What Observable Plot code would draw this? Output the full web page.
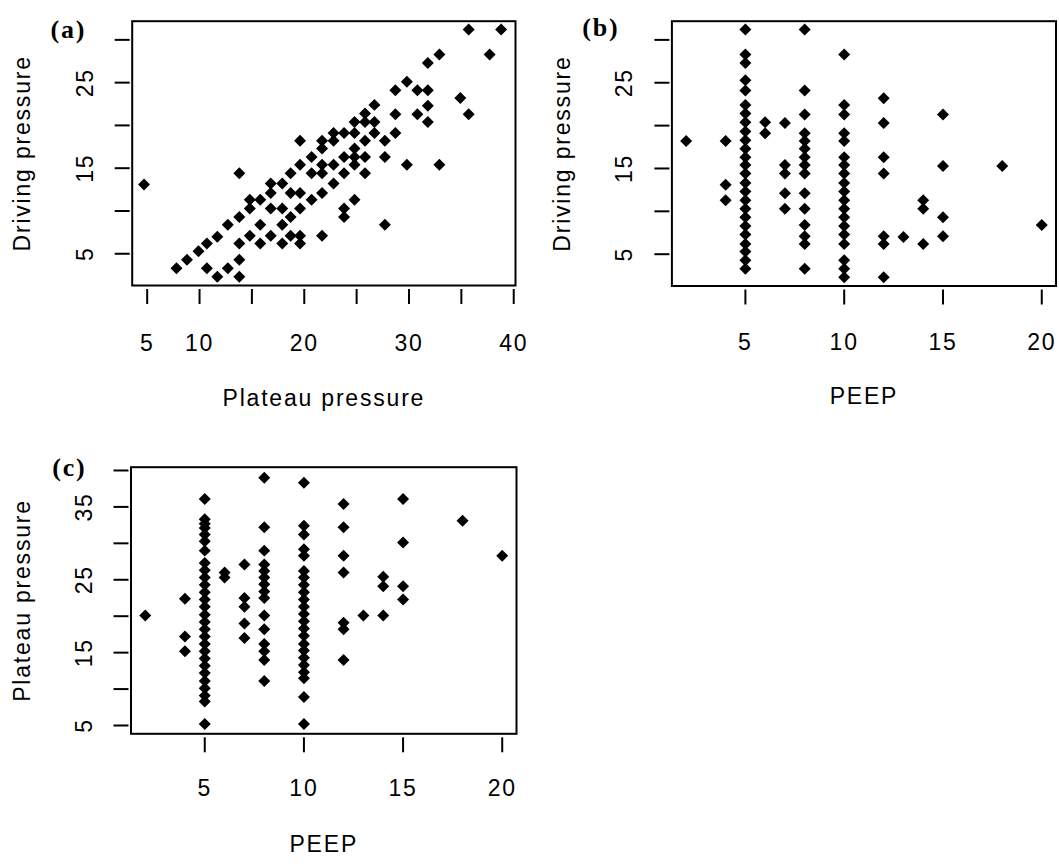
<!DOCTYPE html>
<html>
<head>
<meta charset="utf-8">
<script src="https://cdn.jsdelivr.net/npm/d3@7"></script>
<script src="https://cdn.jsdelivr.net/npm/@observablehq/plot@0.6"></script>
<style>
  html, body { margin: 0; padding: 0; background: #fff; }
  #wrap { position: relative; width: 1059px; height: 864px; background: #fff; overflow: hidden; }
</style>
</head>
<body>
<div id="wrap"></div>
<script>
// ---- Panel (a): Driving pressure vs Plateau pressure ----
const aPlateau = [
  4.7, 7.8, 8.8, 9.9, 10.7, 11.7, 10.7, 11.7, 12.7, 12.7,
  13.8, 13.8, 13.8, 13.8, 13.8, 14.8, 14.8, 15.8, 15.8, 14.8,
  15.8, 16.8, 16.8, 17.9, 16.8, 17.9, 18.7, 17.9, 16.8, 17.9,
  18.7, 19.6, 19.6, 18.7, 18.7, 19.6, 19.6, 19.6, 19.6, 20.7,
  20.7, 20.7, 21.7, 21.7, 21.7, 21.7, 21.7, 22.8, 22.8, 22.8,
  22.8, 21.7, 23.8, 23.8, 23.8, 23.8, 23.8, 24.8, 24.8, 24.8,
  24.8, 24.8, 24.8, 25.8, 25.8, 25.8, 25.8, 25.8, 26.7, 26.7,
  26.7, 27.7, 27.7, 27.7, 28.7, 28.7, 28.7, 29.8, 29.8, 30.8,
  30.8, 31.8, 31.8, 31.8, 31.8, 32.9, 32.9, 34.9, 35.7, 35.7,
  37.7, 38.8
];
const aDriving = [
  13.1, 3.3, 4.3, 5.3, 6.2, 7.0, 3.3, 2.3, 3.3, 8.4,
  9.3, 6.2, 4.3, 2.3, 14.4, 10.3, 11.3, 11.3, 8.4, 7.1,
  6.2, 13.2, 12.1, 13.2, 10.3, 10.3, 9.3, 8.4, 7.1, 6.2,
  7.1, 7.1, 6.2, 14.4, 12.1, 12.1, 10.3, 15.4, 18.2, 11.3,
  16.3, 14.4, 18.2, 17.3, 15.4, 12.1, 7.1, 18.2, 19.1, 15.4,
  13.2, 14.4, 19.1, 16.3, 14.4, 10.3, 9.3, 11.3, 17.3, 16.3,
  15.4, 19.1, 20.4, 20.4, 21.4, 16.3, 14.4, 18.2, 22.4, 19.1,
  20.4, 18.2, 16.3, 8.4, 19.1, 21.3, 24.1, 25.1, 15.4, 24.1,
  21.3, 24.1, 22.3, 20.4, 27.3, 28.3, 15.4, 23.2, 21.3, 31.2,
  28.3, 31.2
];

// ---- Panel (b): Driving pressure by PEEP ----
const peepLevels = [2, 4, 5, 6, 7, 8, 10, 12, 13, 14, 15, 18, 20];
const bDrivingByPeep = [
  [18.2],
  [18.2, 13.1, 11.3],
  [31.2, 28.3, 27.3, 25.3, 24.1, 22.4, 21.4, 20.4, 19.3, 18.3, 17.3, 16.3, 15.4, 14.4, 13.3, 12.3, 11.3, 10.3, 9.3, 8.3, 7.3, 6.2, 5.3, 4.3, 3.3],
  [20.4, 19.1],
  [20.3, 15.4, 14.4, 12.1, 10.3],
  [31.2, 24.1, 21.3, 19.1, 18.2, 17.3, 16.3, 15.4, 14.4, 12.1, 10.3, 8.4, 7.1, 6.2, 3.3],
  [28.3, 22.4, 21.3, 19.1, 18.2, 16.3, 15.4, 14.4, 13.3, 12.3, 11.3, 10.3, 9.3, 8.3, 7.3, 6.2, 4.3, 3.3, 2.3],
  [23.2, 20.3, 16.3, 14.4, 7.1, 6.2, 2.3],
  [7.0],
  [11.3, 10.3, 6.2],
  [21.3, 15.3, 9.3, 7.1],
  [15.3],
  [8.4]
];

// ---- Panel (c): Plateau pressure by PEEP ----
const cPlateauByPeep = [
  [20.1],
  [22.4, 17.2, 15.2],
  [36.1, 33.3, 32.7, 32.1, 31.2, 30.3, 29.0, 27.3, 26.3, 25.3, 24.3, 23.3, 22.3, 21.3, 20.2, 19.2, 18.2, 17.2, 16.2, 15.2, 14.2, 13.2, 12.2, 11.1, 10.1, 9.1, 8.3, 5.2],
  [26.0, 25.3],
  [27.1, 22.5, 21.3, 19.0, 17.0],
  [39.0, 32.2, 29.0, 27.1, 26.2, 25.3, 24.4, 23.4, 22.5, 20.1, 18.2, 16.2, 15.2, 14.0, 11.1],
  [38.3, 32.4, 31.2, 29.2, 28.3, 26.2, 25.3, 24.3, 23.3, 22.3, 21.3, 20.3, 19.3, 18.3, 17.3, 16.2, 15.3, 14.3, 13.3, 12.3, 11.5, 8.9, 5.2],
  [35.4, 32.2, 28.3, 26.0, 19.1, 18.2, 14.0],
  [20.1],
  [25.4, 24.1, 20.1],
  [36.1, 30.1, 24.1, 22.3],
  [33.1],
  [28.3]
];

// ---- Ticks and tick labels ----
const plateauXTicks = [5, 10, 15, 20, 25, 30, 35, 40];
const plateauXLabels = ["5", "10", "", "20", "", "30", "", "40"];
const drivingTicks = [5, 10, 15, 20, 25, 30];
const drivingLabels = ["5", "", "15", "", "25", ""];
const peepTicks = [5, 10, 15, 20];
const peepLabels = ["5", "10", "15", "20"];
const plateauYTicks = [5, 10, 15, 20, 25, 30, 35, 40];
const plateauYLabels = ["5", "", "15", "", "25", "", "35", ""];

// ---- Build rows ----
const aRows = aPlateau.map((x, i) => ({x, y: aDriving[i]}));
const bRows = peepLevels.flatMap((p, i) => bDrivingByPeep[i].map(v => ({x: p, y: v})));
const cRows = peepLevels.flatMap((p, i) => cPlateauByPeep[i].map(v => ({x: p, y: v})));

const fmt = (ticks, labels) => v => { const k = ticks.indexOf(v); return k >= 0 ? labels[k] : ""; };

function panel(o) {
  const svg = Plot.plot({
    width: o.width, height: o.height,
    marginLeft: o.mL, marginRight: o.mR, marginTop: o.mT, marginBottom: o.mB,
    style: {fontFamily: "'Liberation Sans', Arial, sans-serif", fontSize: "23px", letterSpacing: "1.8px", background: "white", color: "black", overflow: "visible"},
    x: {domain: o.xDomain},
    y: {domain: o.yDomain},
    marks: [
      Plot.frame({stroke: "black", strokeWidth: 2}),
      Plot.axisX(o.xTicks, {tickSize: 15, dy: 4, tickPadding: o.xPad, tickFormat: fmt(o.xTicks, o.xLabels), strokeWidth: 2, fontSize: 23, label: null}),
      Plot.axisY(o.yTicks, {tickSize: 15, dx: -2, tickPadding: 22.5, tickRotate: -90, tickFormat: fmt(o.yTicks, o.yLabels), strokeWidth: 2, fontSize: 23, label: null}),
      Plot.dot(o.rows, {x: "x", y: "y", symbol: "diamond2", r: 5.4, fill: "black", stroke: "none"}),
      Plot.text([o.xTitle], {text: d => d, frameAnchor: "bottom", textAnchor: "middle", dy: o.xTitleDy, fontSize: 23}),
      Plot.text([o.yTitle], {text: d => d, frameAnchor: "left", textAnchor: "middle", dx: o.yTitleDx, rotate: -90, fontSize: 23}),
      Plot.text([o.tag], {text: d => d, frameAnchor: "top-left", dx: o.tagDx, dy: o.tagDy, textAnchor: "start", lineAnchor: "bottom",
        fontFamily: "'Liberation Serif', 'Times New Roman', serif", fontWeight: "bold", fontSize: 26})
    ]
  });
  svg.style.position = "absolute";
  svg.style.left = o.left + "px";
  svg.style.top = o.top + "px";
  document.getElementById("wrap").appendChild(svg);
}

panel({
  rows: aRows, left: 0, top: 0, width: 530, height: 440,
  mL: 131.7, mR: 15, mT: 20.7, mB: 155,
  xDomain: [3.57, 40.17], yDomain: [1.29, 32.18],
  xTicks: plateauXTicks, xLabels: plateauXLabels, yTicks: drivingTicks, yLabels: drivingLabels,
  xPad: 29.7, xTitle: "Plateau pressure", yTitle: "Driving pressure",
  xTitleDy: 120, yTitleDx: -110, tag: "(a)", tagDx: -81.7, tagDy: 16.5
});

panel({
  rows: bRows, left: 530, top: 0, width: 529, height: 440,
  mL: 141.4, mR: 3.5, mT: 20.7, mB: 154.5,
  xDomain: [1.28, 20.72], yDomain: [1.29, 32.18],
  xTicks: peepTicks, xLabels: peepLabels, yTicks: drivingTicks, yLabels: drivingLabels,
  xPad: 29, xTitle: "PEEP", yTitle: "Driving pressure",
  xTitleDy: 118, yTitleDx: -109, tag: "(b)", tagDx: -89.7, tagDy: 14.8
});

panel({
  rows: cRows, left: 0, top: 440, width: 530, height: 424,
  mL: 130.5, mR: 14, mT: 26.7, mB: 130.7,
  xDomain: [1.28, 20.72], yDomain: [3.86, 40.45],
  xTicks: peepTicks, xLabels: peepLabels, yTicks: plateauYTicks, yLabels: plateauYLabels,
  xPad: 27, xTitle: "PEEP", yTitle: "Plateau pressure",
  xTitleDy: 118.4, yTitleDx: -108.8, tag: "(c)", tagDx: -78.8, tagDy: 8.8
});
</script>
</body>
</html>
